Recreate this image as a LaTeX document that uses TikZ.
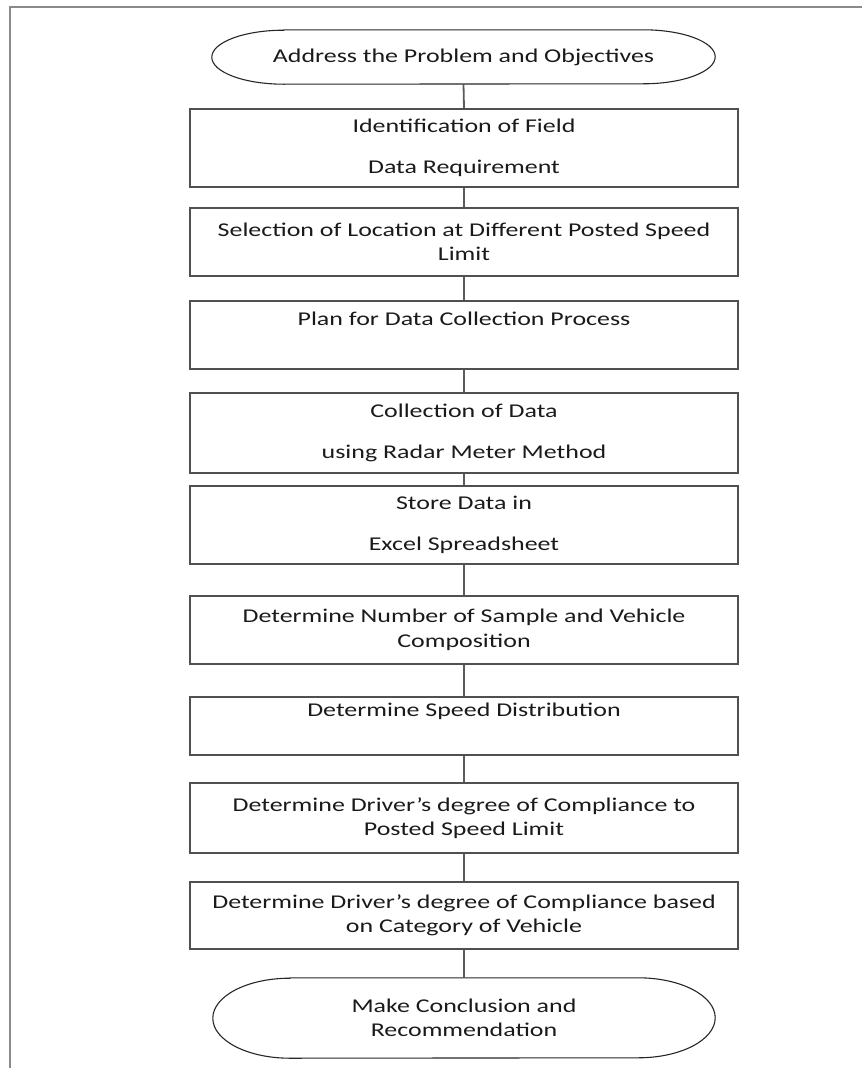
\documentclass[tikz,border=0pt]{standalone}
\usepackage{fontspec}
\setmainfont{Carlito}[FakeStretch=1.33]
\definecolor{txtc}{HTML}{1A1A1A}
\definecolor{boxc}{HTML}{505050}
\definecolor{connc}{HTML}{5A5A5A}
\definecolor{framec}{HTML}{8A8A8A}
\begin{document}
\begin{tikzpicture}[x=1pt,y=-1pt,
  every node/.style={font=\fontsize{19.5}{24.5}\selectfont, text=txtc, align=center, inner sep=0pt},
  stepbox/.style={draw=boxc, line width=1.8pt, minimum width=548pt},
  termnode/.style={draw=none},
  termline/.style={draw=black!85, line width=1.1pt},
  conn/.style={draw=connc, line width=1.8pt},
  frameline/.style={draw=framec, line width=1.4pt}]
\useasboundingbox (0,0) rectangle (862,1068);
% frame
\coordinate (fa) at (10,1068);
\coordinate (fb) at (10,7);
\coordinate (fc) at (862,7);
\draw[frameline] (fa) -- (fb) -- (fc);
% nodes
\node[termnode, minimum width=503pt, minimum height=54pt] (t0) at (463.5,57) {Address the Problem and Objectives};
\node[stepbox, minimum height=78pt] (b1) at (464,148) {Identification of Field\\[16pt]Data Requirement};
\node[stepbox, minimum height=68pt] (b2) at (464,242) {Selection of Location at Different Posted Speed\\Limit};
\node[stepbox, minimum height=68pt] (b3) at (464,335) {Plan for Data Collection Process\\\strut};
\node[stepbox, minimum height=80pt] (b4) at (464,433) {Collection of Data\\[16pt]using Radar Meter Method};
\node[stepbox, minimum height=78pt] (b5) at (464,525) {Store Data in\\[16pt]Excel Spreadsheet};
\node[stepbox, minimum height=68pt] (b6) at (464,630) {Determine Number of Sample and Vehicle\\Composition};
\node[stepbox, minimum height=58pt] (b7) at (464,726) {Determine Speed Distribution\\\strut};
\node[stepbox, minimum height=70pt] (b8) at (464,818) {Determine Driver’s degree of Compliance to\\Posted Speed Limit};
\node[stepbox, minimum height=67pt] (b9) at (464,915.5) {Determine Driver’s degree of Compliance based\\on Category of Vehicle};
\node[termnode, minimum width=502pt, minimum height=80pt] (t1) at (464,1018) {Make Conclusion and\\Recommendation};
% terminator outlines
\draw[termline] ([xshift=72pt]t0.north west) -- ([xshift=-72pt]t0.north east)
  arc[start angle=90, end angle=-90, x radius=72pt, y radius=27pt]
  -- ([xshift=72pt]t0.south west)
  arc[start angle=270, end angle=90, x radius=72pt, y radius=27pt] -- cycle;
\draw[termline] ([xshift=77pt]t1.north west) -- ([xshift=-77pt]t1.north east)
  arc[start angle=90, end angle=-90, x radius=77pt, y radius=40pt]
  -- ([xshift=77pt]t1.south west)
  arc[start angle=270, end angle=90, x radius=77pt, y radius=40pt] -- cycle;
% connectors
\draw[conn] (t0.south) -- (b1.north);
\draw[conn] (b1.south) -- (b2.north);
\draw[conn] (b2.south) -- (b3.north);
\draw[conn] (b3.south) -- (b4.north);
\draw[conn] (b4.south) -- (b5.north);
\draw[conn] (b5.south) -- (b6.north);
\draw[conn] (b6.south) -- (b7.north);
\draw[conn] (b7.south) -- (b8.north);
\draw[conn] (b8.south) -- (b9.north);
\draw[conn] (b9.south) -- (t1.north);
\end{tikzpicture}
\end{document}
